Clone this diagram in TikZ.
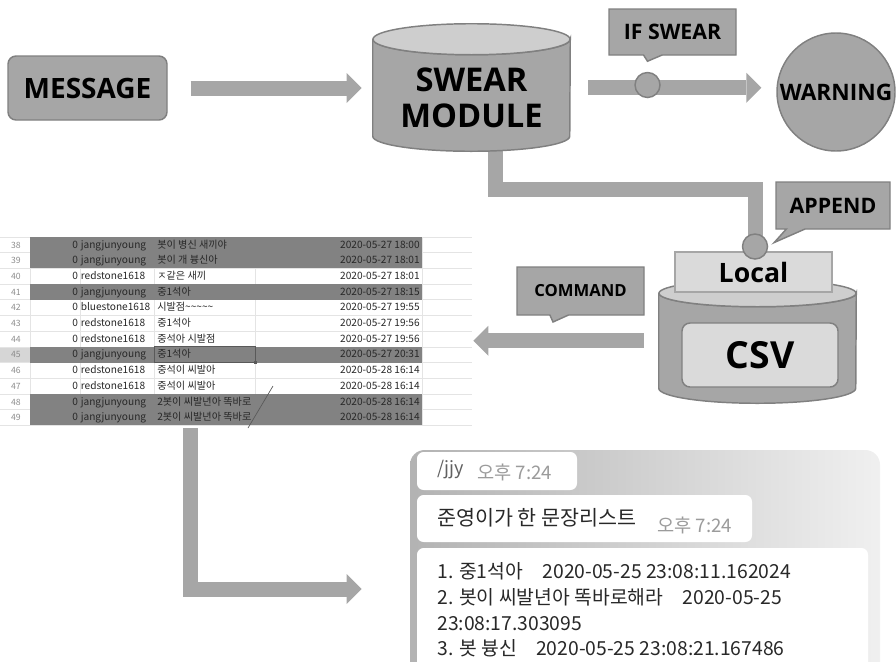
\documentclass[tikz,border=0pt]{standalone}
\usepackage{fontspec}
\setmainfont{Open Sans}
\newfontfamily\krfont{Noto Sans CJK KR}
\usetikzlibrary{arrows.meta,shapes.callouts,backgrounds}

\begin{document}
\begin{tikzpicture}[x=.75pt,y=-.75pt,>=Stealth,
    every node/.style={font=\bfseries,text=black},
    heading/.style={font=\fontsize{#1}{#1}\selectfont\bfseries},
    fatarrow/.style={draw=boxgray,line width=11.25pt,
      -{Triangle[width=22.5pt,length=11.25pt,line width=0pt 0]}},
    fatline/.style={draw=boxgray,line width=11.25pt},
    roundbox/.style={draw=edgegray,fill=boxgray,line width=1.1pt,rounded corners=6pt,inner sep=0pt},
    callbox/.style={rectangle callout,draw=edgegray,fill=boxgray,line width=1.1pt,
      inner sep=0pt,callout pointer width=14pt},
    dotnode/.style={circle,draw=edgegray,fill=boxgray,line width=1.1pt,minimum size=18.75pt,inner sep=0pt},
    cylbody/.style={draw=edgegray,fill=boxgray,line width=1.1pt},
    cyltop/.style={draw=edgegray,fill=topgray,line width=1.1pt},
    cell/.style={font=\krfont\fontsize{7.6}{9}\selectfont,text=inkgray,inner sep=0pt},
    bubble/.style={fill=white,rounded corners=5pt,inner sep=0pt},
    chattext/.style={font=\krfont\fontsize{#1}{#1}\selectfont,text=inkgray,inner sep=0pt,anchor=base west}]
  \definecolor{boxgray}{RGB}{166,166,166}
  \definecolor{edgegray}{RGB}{128,128,128}
  \definecolor{topgray}{RGB}{206,206,206}
  \definecolor{palegray}{RGB}{218,218,218}
  \definecolor{rowgray}{RGB}{130,130,130}
  \definecolor{gridgray}{RGB}{228,228,228}
  \definecolor{headgray}{RGB}{214,214,214}
  \definecolor{inkgray}{RGB}{40,40,40}
  \definecolor{numgray}{RGB}{140,140,140}
  \definecolor{stampgray}{RGB}{155,155,155}
  \useasboundingbox (0,0) rectangle (896,661);
  \clip (0,0) rectangle (896,661);

  \node[roundbox,heading=21,minimum width=119.25pt,minimum height=48pt] (msg) at (87.5,88) {MESSAGE};

  \node[inner sep=0pt,minimum width=147.75pt,minimum height=72.375pt] (swear) at (471.5,87.75) {};
  \draw[cylbody] (swear.north west) -- (swear.south west)
    arc[start angle=180,end angle=0,x radius=98.5,y radius=15] -- (swear.north east)
    arc[start angle=0,end angle=180,x radius=98.5,y radius=15.5] -- cycle;
  \draw[cyltop] (swear.north) ellipse[x radius=98.5,y radius=15.5];
  \node[align=center,font=\fontsize{24.5}{27}\selectfont\bfseries] (swearlabel) at (471.5,98.25) {SWEAR\\MODULE};

  \node[dotnode] (ifdot) at (647.5,85) {};
  \node[callbox,heading=16,minimum width=95.25pt,minimum height=34.5pt,
    callout absolute pointer={([yshift=7.9pt]ifdot.north)}] (ifswear) at (672.5,32) {IF SWEAR};
  \node[circle,draw=edgegray,fill=boxgray,line width=1.1pt,minimum size=88.5pt,inner sep=0pt,heading=17] (warn) at (836,92) {WARNING};

  \node[inner sep=0pt,minimum width=147.75pt,minimum height=70.875pt] (csv) at (757.5,340.75) {};
  \draw[cylbody] (csv.north west) -- (csv.south west)
    arc[start angle=180,end angle=0,x radius=98.5,y radius=15] -- (csv.north east)
    arc[start angle=0,end angle=180,x radius=98.5,y radius=13.5] -- cycle;
  \draw[cyltop] (csv.north) ellipse[x radius=98.5,y radius=13.5];
  \node[draw=boxgray,fill=palegray,line width=.8pt,inner sep=0pt,minimum width=117.75pt,minimum height=30pt,heading=20] (local) at (753.5,272) {Local};
  \node[roundbox,fill=palegray,minimum width=117pt,minimum height=48pt,heading=28] (csvbox) at (760,355) {CSV};
  \node[dotnode] (appdot) at (755,246.5) {};
  \node[callbox,heading=16,minimum width=85.5pt,minimum height=35.25pt,
    callout absolute pointer={([xshift=4.5pt,yshift=3pt]appdot.east)}] (append) at (833,205.5) {APPEND};
  \node[callbox,heading=12.5,minimum width=95.25pt,minimum height=36pt,
    callout absolute pointer={(553,322)}] (command) at (580.5,291) {COMMAND};

  \node[inner sep=0pt,minimum width=354pt,minimum height=141pt] (tbl) at (236,331) {};
  \fill[headgray] (0,346.9) rectangle (30,362.6);
  \foreach \k in {0,...,12}
    \draw[gridgray,line width=.5pt] (0,237+15.7*\k) -- (472,237+15.7*\k);
  \foreach \cx in {30,80,154,255,422}
    \draw[gridgray,line width=.5pt] (\cx,237) -- (\cx,425.4);
  \foreach \rownum/\user/\said/\stamp/\hit [count=\i from 0] in {
      38/jangjunyoung/봇이 병신 새끼야/2020-05-27 18:00/1,
      39/jangjunyoung/봇이 개 븅신아/2020-05-27 18:01/1,
      40/redstone1618/ㅈ같은 새끼/2020-05-27 18:01/0,
      41/jangjunyoung/중1석아/2020-05-27 18:15/1,
      42/bluestone1618/시발점\textasciitilde\textasciitilde\textasciitilde\textasciitilde\textasciitilde/2020-05-27 19:55/0,
      43/redstone1618/중1석아/2020-05-27 19:56/0,
      44/redstone1618/중석아 시발점/2020-05-27 19:56/0,
      45/jangjunyoung/중1석아/2020-05-27 20:31/1,
      46/redstone1618/중석이 씨발아/2020-05-28 16:14/0,
      47/redstone1618/중석이 씨발아/2020-05-28 16:14/0,
      48/jangjunyoung/2봇이 씨발년아 똑바로/2020-05-28 16:14/1,
      49/jangjunyoung/2봇이 씨발년아 똑바로/2020-05-28 16:14/1}{
    \pgfmathsetmacro\rowtop{237+15.7*\i}
    \ifnum\hit=1 \fill[rowgray] (30,\rowtop) rectangle (421.7,\rowtop+15.7); \fi
    \node[cell,anchor=base,text=numgray,font=\krfont\fontsize{6.5}{7}\selectfont] (num\rownum) at (16,\rowtop+11) {\rownum};
    \node[cell,anchor=base west] (user\rownum) at (72,\rowtop+11) {0\hspace{2.2pt}\user};
    \begin{scope}
      \clip (154,\rowtop) rectangle (254,\rowtop+15.7);
      \node[cell,anchor=base west] (said\rownum) at (157,\rowtop+11) {\said};
    \end{scope}
    \node[cell,anchor=base east] (stamp\rownum) at (420,\rowtop+11) {\stamp};
  }
  \draw[gray!70!black,line width=.7pt] (154,346.9) rectangle (255,362.6);
  \fill[gray!70!black] (253.5,361.1) rectangle (256.5,364.1);
  \draw[gray!70!black,line width=.5pt] (273,386) -- (248,428);

  \node[left color=gray!60,right color=gray!12,rounded corners=11pt,inner sep=0pt,
    minimum width=352.5pt,minimum height=208.5pt] (chat) at (645,589) {};
  \node[bubble,minimum width=120pt,minimum height=28.5pt] (bubble1) at (497,471) {};
  \node[bubble,minimum width=251.25pt,minimum height=35.25pt] (bubble2) at (584.5,518.5) {};
  \node[bubble,minimum width=338.25pt,minimum height=144pt] (bubble3) at (642.5,644) {};
  \node[chattext=13.5,text=gray!75!black] (jjy) at (437,474) {/jjy};
  \node[chattext=14,text=stampgray] (time1) at (477,479) {오후 7:24};
  \node[chattext=15.5] (title) at (437,525) {준영이가 한 문장리스트};
  \node[chattext=14,text=stampgray] (time2) at (657,532) {오후 7:24};
  \node[chattext=14.5] (entry1) at (437,578) {1. 중1석아\enspace\enspace 2020-05-25 23:08:11.162024};
  \node[chattext=14.5] (entry2) at (437,604) {2. 봇이 씨발년아 똑바로해라\enspace\enspace 2020-05-25};
  \node[chattext=14.5] (entry3) at (437,630) {23:08:17.303095};
  \node[chattext=14.5] (entry4) at (437,655) {3. 봇 븅신\enspace\enspace 2020-05-25 23:08:21.167486};

  \coordinate (bend) at (0,189.5);
  \coordinate (dropx) at (190,0);
  \begin{scope}[on background layer]
    \draw[fatarrow,shorten <=17.25pt,shorten >=8.25pt] (msg.east) -- (msg.east -| swear.west);
    \draw[fatarrow,shorten <=13.5pt,shorten >=11.25pt] (swear.east) -- (swear.east -| warn.west);
    \draw[fatline] ([xshift=18pt]swear.center) |- (bend -| appdot) -- (appdot.center);
    \draw[fatarrow,shorten <=11.25pt,shorten >=.75pt] (csv.west) -- (csv.west -| tbl.east);
    \draw[fatarrow,shorten <=2.25pt,shorten >=36pt] (tbl.south -| dropx) |- (chat.west);
  \end{scope}
\end{tikzpicture}
\end{document}
